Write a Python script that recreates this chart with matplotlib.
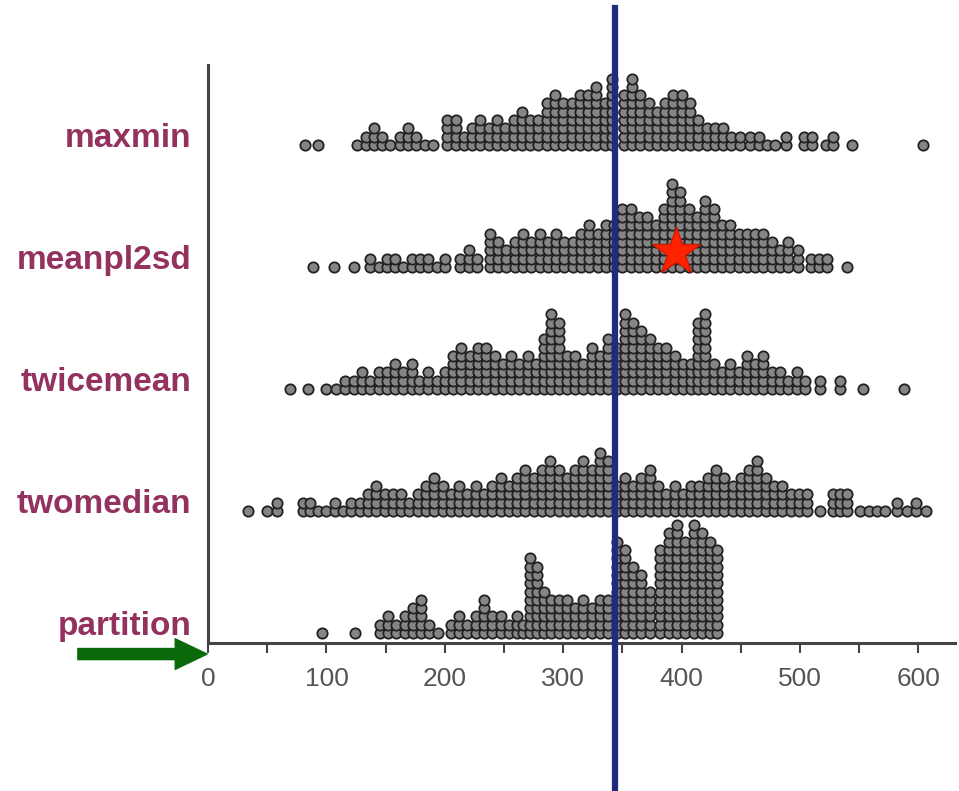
import matplotlib
matplotlib.use("Agg")
import matplotlib.pyplot as plt
import numpy as np

# Rows from bottom to top
categories = ["partition", "twomedian", "twicemean", "meanpl2sd", "maxmin"]

# Each row is a dot plot: x position of each stack and the number of dots in it
partition_x = [96, 124, 145, 152, 159, 166, 173, 180, 187, 194, 205, 212, 219, 226, 233,
               240, 247, 254, 261, 266, 272, 278, 284, 290, 296, 303, 310, 317, 324, 331,
               338, 345, 352, 359, 366, 373, 382, 389, 396, 403, 410, 417, 424, 430]
partition_n = [1, 1, 2, 3, 2, 3, 4, 5, 2, 1, 2, 3, 2, 3, 5,
               3, 3, 2, 3, 2, 10, 9, 6, 5, 5, 5, 4, 5, 4, 5,
               5, 12, 11, 9, 8, 6, 11, 13, 14, 12, 14, 13, 12, 11]

twomedian_x = [34, 50, 58, 80, 86, 93, 100, 107, 114, 121, 128, 135, 142, 149, 156, 163,
               170, 177, 184, 191, 198, 205, 212, 219, 226, 233, 240, 247, 254, 261, 268,
               275, 282, 289, 296, 303, 310, 317, 324, 331, 338, 345, 352, 359, 366, 373,
               380, 387, 394, 401, 408, 415, 422, 429, 436, 443, 450, 457, 464, 471, 478,
               485, 492, 499, 506, 517, 528, 534, 540, 551, 558, 565, 572, 582, 590, 598, 606]
twomedian_n = [1, 1, 2, 2, 2, 1, 1, 2, 1, 2, 2, 3, 4, 3, 3, 3,
               2, 3, 4, 5, 4, 3, 4, 3, 4, 3, 4, 5, 4, 5, 6,
               5, 6, 7, 6, 5, 6, 7, 6, 8, 7, 4, 5, 4, 5, 6,
               4, 3, 4, 3, 4, 4, 5, 6, 5, 4, 5, 6, 7, 5, 4,
               4, 3, 3, 3, 1, 3, 3, 3, 1, 1, 1, 1, 2, 1, 2, 1]

twicemean_x = [69, 84, 100, 108, 116, 123, 130, 137, 144, 151, 158, 165, 172, 178, 186,
               193, 200, 207, 214, 221, 228, 235, 242, 249, 256, 263, 270, 277, 284, 290,
               296, 303, 310, 317, 324, 331, 338, 345, 352, 359, 366, 373, 380, 387, 394,
               401, 408, 414, 420, 427, 434, 441, 448, 455, 462, 469, 476, 483, 490, 497,
               504, 517, 534, 553, 588]
twicemean_n = [1, 1, 1, 1, 2, 2, 3, 2, 3, 3, 4, 3, 4, 2, 3,
               2, 3, 5, 6, 5, 6, 6, 5, 4, 5, 4, 5, 4, 7, 10,
               9, 5, 5, 4, 6, 5, 7, 6, 10, 9, 8, 7, 6, 6, 5,
               4, 4, 9, 10, 4, 3, 4, 3, 5, 4, 5, 3, 3, 2, 3,
               2, 2, 2, 1, 1]

meanpl2sd_x = [89, 106, 123, 137, 144, 151, 158, 165, 172, 179, 186, 193, 200, 213, 220,
               227, 238, 245, 252, 259, 266, 273, 280, 287, 294, 301, 308, 315, 322, 329,
               336, 343, 350, 357, 364, 371, 378, 385, 392, 399, 406, 413, 420, 427, 434,
               441, 448, 455, 462, 469, 476, 483, 490, 498, 509, 516, 523, 540]
meanpl2sd_n = [1, 1, 1, 2, 1, 2, 2, 1, 2, 2, 2, 1, 2, 2, 3,
               2, 5, 4, 3, 4, 5, 4, 5, 4, 5, 4, 4, 5, 6, 5,
               6, 6, 8, 8, 7, 7, 6, 8, 11, 10, 8, 7, 9, 8, 6,
               6, 5, 5, 5, 5, 4, 3, 4, 3, 2, 2, 2, 1]

maxmin_x = [82, 93, 126, 133, 140, 147, 154, 162, 169, 176, 183, 190, 202, 209, 216,
            223, 230, 237, 244, 251, 258, 265, 272, 279, 286, 293, 300, 307, 314, 321,
            328, 335, 341, 351, 358, 365, 372, 379, 386, 393, 400, 407, 414, 421, 428,
            435, 442, 449, 458, 465, 472, 479, 488, 503, 510, 522, 528, 544, 604]
maxmin_n = [1, 1, 1, 2, 3, 2, 1, 2, 3, 2, 1, 1, 4, 4, 2,
            3, 4, 3, 4, 3, 4, 5, 4, 4, 6, 7, 6, 6, 7, 7,
            8, 6, 9, 7, 9, 7, 6, 5, 6, 7, 7, 6, 4, 3, 3,
            3, 2, 2, 2, 2, 1, 1, 2, 2, 2, 1, 2, 1, 1]

rows = [(partition_x, partition_n), (twomedian_x, twomedian_n), (twicemean_x, twicemean_n),
        (meanpl2sd_x, meanpl2sd_n), (maxmin_x, maxmin_n)]

cutoff = 344          # vertical reference line
star_point = (395, 3.12)  # highlighted value on the meanpl2sd row

DOT_STEP = 0.068      # vertical spacing of stacked dots, in row units

fig = plt.figure(figsize=(9.59, 7.91), dpi=100)
ax = fig.add_axes([0.217, 0.187, 0.779, 0.731])

for i, (xs, ns) in enumerate(rows):
    px = np.repeat(xs, ns)
    py = i + np.concatenate([np.arange(n) for n in ns]) * DOT_STEP
    ax.scatter(px, py, s=55, c="#858585", edgecolors="#222222", linewidths=1.3, zorder=2)

ax.set_xlim(0, 631)
ax.set_ylim(-0.082, 4.656)

ax.spines["top"].set_visible(False)
ax.spines["right"].set_visible(False)
for side in ("left", "bottom"):
    ax.spines[side].set_color("#444444")
    ax.spines[side].set_linewidth(2.2)

ax.set_xticks(range(0, 601, 100))
ax.set_xticks(range(50, 600, 100), minor=True)
ax.tick_params(axis="x", which="both", direction="out", length=7, width=1.5,
               color="#444444", pad=10)
for lab in ax.get_xticklabels():
    lab.set_fontfamily("Liberation Sans")
    lab.set_fontsize(19)
    lab.set_color("#555555")

ax.set_yticks(np.arange(len(categories)) + 0.08, categories)
ax.tick_params(axis="y", length=0, pad=12)
for lab in ax.get_yticklabels():
    lab.set_fontfamily("Liberation Sans")
    lab.set_fontweight("bold")
    lab.set_fontsize(24)
    lab.set_color("#93325f")

ax.axvline(cutoff, ymin=-0.254, ymax=1.099, color="#1f2c7e", linewidth=4.5,
           clip_on=False, zorder=3)

ax.plot(*star_point, marker="*", markersize=36, color="#ff2200",
        markeredgecolor="#d01a00", markeredgewidth=1, zorder=4)

ax.annotate("", xy=(-0.8, -0.172), xytext=(-110, -0.172),
            arrowprops=dict(arrowstyle="simple,head_length=2.3,head_width=2.2,tail_width=0.8",
                            color="#0a6a0a", shrinkA=0, shrinkB=0, mutation_scale=10),
            annotation_clip=False)

fig.savefig("out.png", dpi=100)
